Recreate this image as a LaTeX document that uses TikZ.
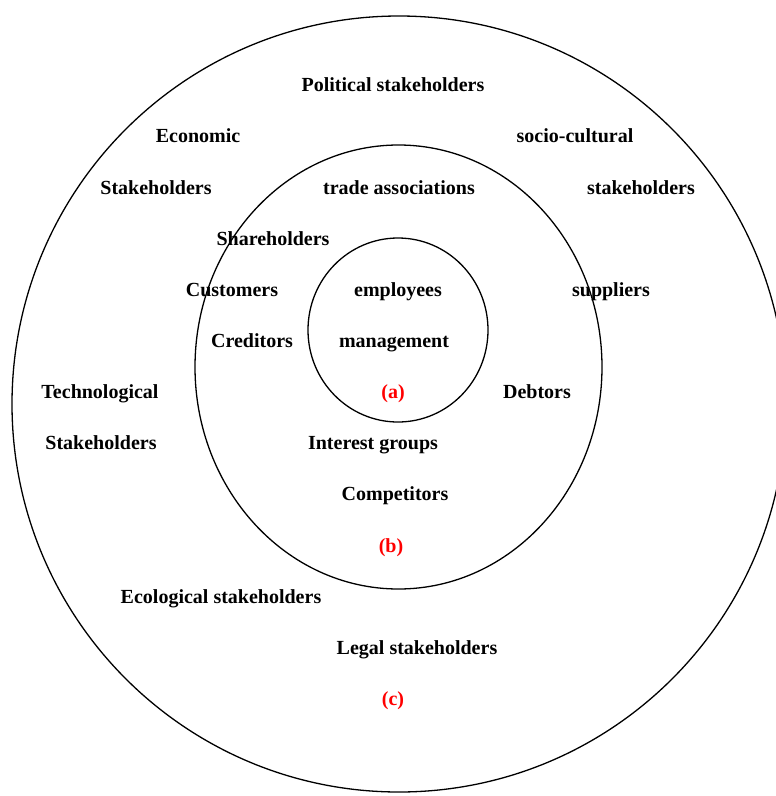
\documentclass[tikz,border=0pt]{standalone}
\usepackage{fontspec}
\setmainfont{Liberation Serif}
\begin{document}
\begin{tikzpicture}[x=1pt,y=-1pt,
  lbl/.style={font=\fontsize{20}{24}\selectfont\bfseries, inner sep=0pt, anchor=base, yshift=-6.5pt},
  tag/.style={lbl, text=red},
  ring/.style={draw=black, line width=1.3pt}]
\useasboundingbox (0,0) rectangle (776,796);
\clip (0,0) rectangle (776,796);
\fill[white] (0,0) rectangle (776,796);
\draw[ring] (399,404) ellipse [x radius=387, y radius=388];
\draw[ring] (398.5,367) ellipse [x radius=203.5, y radius=222];
\draw[ring] (398,330) ellipse [x radius=90, y radius=92];
\node[lbl] (pol) at (393,85) {Political stakeholders};
\node[lbl] (eco) at (198,136) {Economic};
\node[lbl] (soc) at (575,136) {socio-cultural};
\node[lbl] (ecos) at (156,188) {Stakeholders};
\node[lbl] (trade) at (399,188) {trade associations};
\node[lbl] (socs) at (641,188) {stakeholders};
\node[lbl] (share) at (273,239) {Shareholders};
\node[lbl] (cust) at (232,290) {Customers};
\node[lbl] (emp) at (398,290) {employees};
\node[lbl] (supp) at (611,290) {suppliers};
\node[lbl] (cred) at (252,341) {Creditors};
\node[lbl] (man) at (394,341) {management};
\node[lbl] (tech) at (100,392) {Technological};
\node[tag] (a) at (393,392) {(a)};
\node[lbl] (debt) at (537,392) {Debtors};
\node[lbl] (techs) at (101,443) {Stakeholders};
\node[lbl] (int) at (373,443) {Interest groups};
\node[lbl] (comp) at (395,494) {Competitors};
\node[tag] (b) at (391,546) {(b)};
\node[lbl] (ecol) at (221,597) {Ecological stakeholders};
\node[lbl] (legal) at (417,648) {Legal stakeholders};
\node[tag] (c) at (393,699) {(c)};
\end{tikzpicture}
\end{document}
